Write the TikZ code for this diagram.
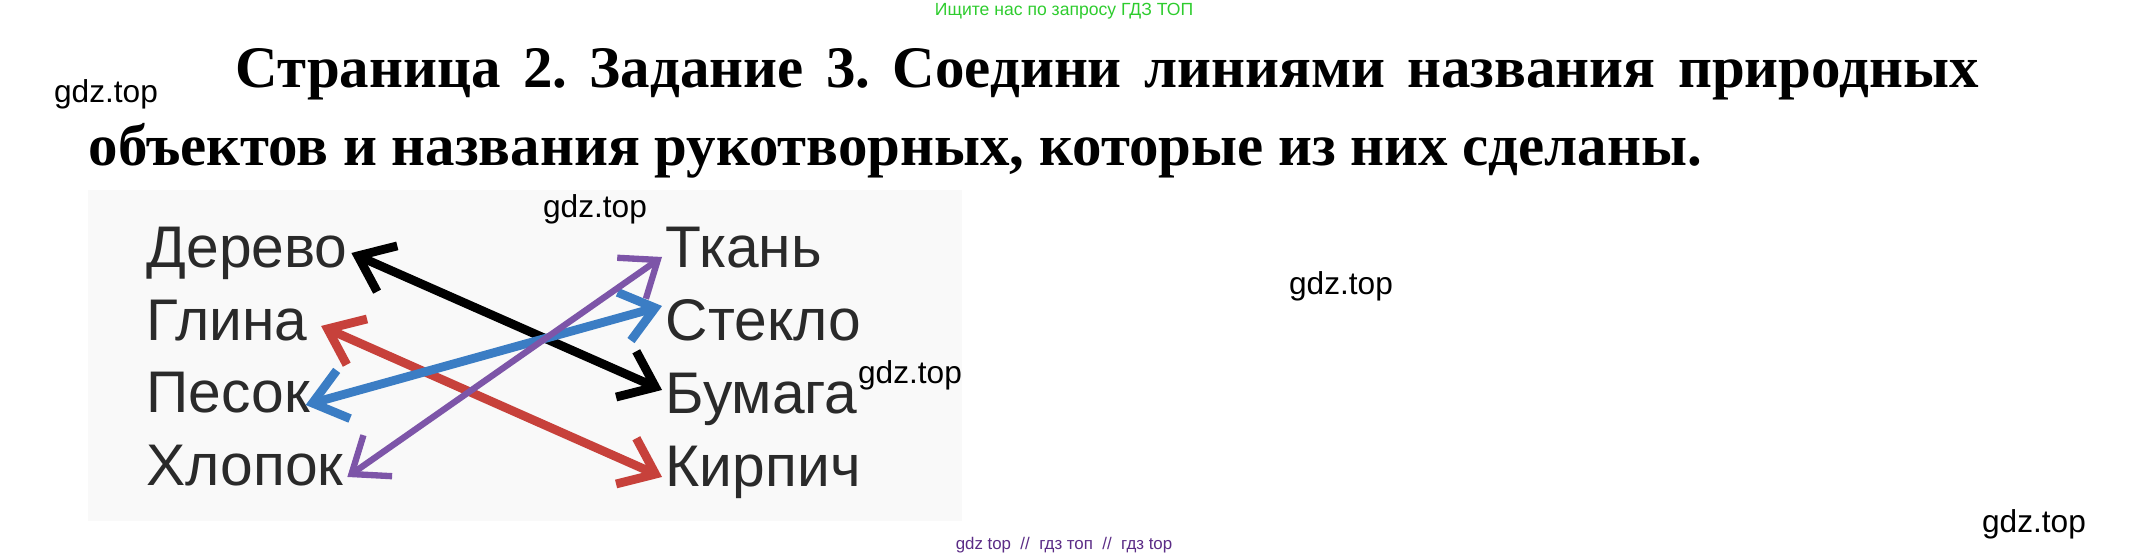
\documentclass[tikz,border=0pt]{standalone}
\usepackage{fontspec}
\setmainfont{Liberation Serif}
\newfontfamily\wordfont{Liberation Sans}
\usetikzlibrary{arrows.meta}
\definecolor{wordgray}{HTML}{2A2A2A}
\definecolor{linkblue}{HTML}{3B7DC4}
\definecolor{linkred}{HTML}{C7413B}
\definecolor{linkpurple}{HTML}{7D55A8}
\definecolor{topgreen}{HTML}{2ECC2E}
\definecolor{footviolet}{HTML}{5B2C86}
\tikzset{
  word/.style={anchor=base west, inner sep=0.03cm, text=wordgray,
    font=\wordfont\fontsize{16.7}{20}\selectfont, text height=0.42cm, text depth=0.12cm},
  link/.style={line width=2.5pt, line join=round, line cap=round,
    {Straight Barb[length=0.32cm,width=0.5cm]}-{Straight Barb[length=0.32cm,width=0.5cm]}},
  wmark/.style={font=\wordfont\fontsize{9}{11}\selectfont},
  titleline/.style={anchor=base west, inner sep=0, font=\bfseries\fontsize{16.75}{19}\selectfont}
}
\frenchspacing
\begin{document}
\begin{tikzpicture}[x=0.01cm, y=-0.01cm]
  \useasboundingbox (0,0) rectangle (2131,559);
  % page photo
  \fill[gray!5] (88,190) rectangle (962,521);
  \node[font=\wordfont\fontsize{5}{6}\selectfont, text=topgreen] (search) at (1064,11) {Ищите нас по запросу ГДЗ ТОП};
  % task text
  \node[titleline] (title1) at (235,88) {\makebox[17.42cm][s]{Страница 2. Задание 3. Соедини линиями названия природных}};
  \node[titleline] (title2) at (88,166) {объектов и названия рукотворных, которые из них сделаны.};
  % natural objects
  \node[word] (derevo) at (143,268) {Дерево};
  \node[word] (glina) at (143,341) {Глина};
  \node[word] (pesok) at (143,413) {Песок};
  \node[word] (hlopok) at (143,486) {Хлопок};
  % man-made objects
  \node[word] (tkan) at (662,268) {Ткань};
  \node[word] (steklo) at (662,341) {Стекло};
  \node[word] (bumaga) at (662,414) {Бумага};
  \node[word] (kirpich) at (662,487) {Кирпич};
  % links
  \draw[link, draw=black] (derevo.east) -- ([yshift=0.09cm]bumaga.west);
  \draw[link, draw=linkred] ([xshift=0.1cm]glina.east) -- ([yshift=-0.05cm]kirpich.west);
  \draw[link, draw=linkblue] ([xshift=-0.08cm,yshift=-0.07cm]pesok.east) -- ([yshift=0.2cm]steklo.west);
  \draw[link, draw=linkpurple, line width=1.8pt] ([yshift=-0.06cm]hlopok.east) -- ([yshift=-0.04cm]tkan.west);
  % watermarks
  \node[wmark] (wm1) at (106,94) {gdz.top};
  \node[wmark] (wm2) at (595,209) {gdz.top};
  \node[wmark] (wm3) at (910,375) {gdz.top};
  \node[wmark] (wm4) at (1341,286) {gdz.top};
  \node[wmark] (wm5) at (2034,524) {gdz.top};
  \node[font=\wordfont\fontsize{4.8}{6}\selectfont, text=footviolet] (foot) at (1064,545) {gdz top \ // \ гдз топ \ // \ гдз top};
\end{tikzpicture}
\end{document}
